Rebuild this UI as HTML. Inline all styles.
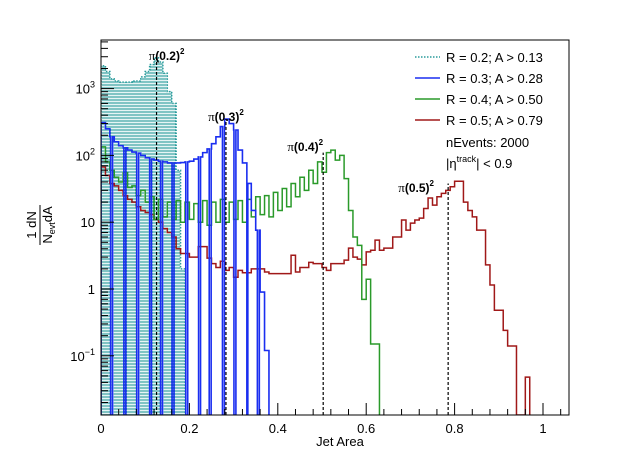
<!DOCTYPE html>
<html><head><meta charset="utf-8"><style>
html,body{margin:0;padding:0;background:#fff;}
svg{display:block;font-family:"Liberation Sans",sans-serif;}
</style></head><body>
<svg id="chart" width="620" height="472" viewBox="0 0 620 472" xmlns="http://www.w3.org/2000/svg">
<defs>
<clipPath id="plotclip"><rect x="101" y="40" width="468" height="375"/></clipPath>
<pattern id="tealpat" width="2" height="3" patternUnits="userSpaceOnUse">
<line x1="1" y1="0" x2="1" y2="2.2" stroke="#2a9c9c" stroke-width="1.2"/>
</pattern>
</defs>
<rect x="0" y="0" width="620" height="472" fill="#fff"/>
<g id="series" clip-path="url(#plotclip)"></g>
<g id="axes"></g>
<rect x="101" y="40" width="468" height="375" fill="none" stroke="#000" stroke-width="1"/>
<g id="labels"></g>
<g font-size="13">
<g><line x1="415" y1="57" x2="440" y2="57" stroke="#2a9c9c" stroke-width="1.5" stroke-dasharray="1.5,1.5"/><text x="446" y="62">R = 0.2; A &gt; 0.13</text></g>
<g><line x1="415" y1="78" x2="440" y2="78" stroke="#1a2ef0" stroke-width="1.5"/><text x="446" y="83">R = 0.3; A &gt; 0.28</text></g>
<g><line x1="415" y1="99" x2="440" y2="99" stroke="#2a9a2a" stroke-width="1.5"/><text x="446" y="104">R = 0.4; A &gt; 0.50</text></g>
<g><line x1="415" y1="120" x2="440" y2="120" stroke="#a01818" stroke-width="1.5"/><text x="446" y="125">R = 0.5; A &gt; 0.79</text></g>
<text x="446" y="147">nEvents: 2000</text>
<text x="446" y="168">|η<tspan font-size="9" dy="-6">track</tspan><tspan dy="6">| &lt; 0.9</tspan></text>
</g>
<g transform="translate(40,225) rotate(-90)" font-size="13">
<text x="0" y="-4" text-anchor="middle">1  dN</text>
<line x1="-20" y1="0" x2="20" y2="0" stroke="#000" stroke-width="1"/>
<text x="0" y="12" text-anchor="middle">N<tspan font-size="9" dy="3">evt</tspan><tspan dy="-3">dA</tspan></text>
</g>
<text x="340" y="446" font-size="13" text-anchor="middle">Jet Area</text>
</svg>
<script>
const binWidth = 0.01;
const tealValues = [2200,1800,1400,1300,1250,1250,1250,1300,1300,1500,1800,2300,2900,2500,1700,900,600,60,2];
const blueValues = [310,250,190,160,140,130,120,112,108,100,92,88,85,82,80,77,77,77,78,80,82,88,95,110,125,150,190,270,350,300,240,120,77,38,15,7.6,0.9,0.12];
const blueGaps = [0.024,0.054,0.083,0.112,0.137,0.163,0.194,0.223,0.247,0.277,0.303,0.330,0.356];
const greenValues = [134,80,60,47,40,55,33,35,25,30,20,24,11,22,12,20,11,21,10,20,11,19,10,21,9,20,10,22,10,20,11,21,10,22,12,24,13,25,12,28,15,32,17,38,24,47,30,60,38,80,56,110,120,85,100,45,15,6,4.5,0.7,1.4,0.15,0.15];
const redValues = [67,50,38,35,30,25,22,20,17,15,14,13,11,10,8,7,6,4,3.4,3.4,3.0,3.0,4.3,4.3,2.9,2.4,2.1,2.6,1.9,2.1,1.5,1.9,1.75,1.75,2.0,2.0,2.0,1.8,1.7,1.7,1.7,1.7,1.7,3.2,1.8,2.1,2.1,2.5,2.4,2.4,2.1,1.9,2.4,2.4,2.4,2.7,4.1,3.0,2.8,2.3,3.6,3.8,5.4,3.8,4.1,4.1,6,6,10.8,7.6,9.7,10.8,11.5,16,23,18,24,27,30,34,41,41,20,15,12,7.6,7.6,2.3,1.15,0.48,0.48,0.24,0.14,0.14,0,0,0.048];
const piLines = [0.1257,0.2827,0.5027,0.7854];
const piLabels = ["0.2","0.3","0.4","0.5"];
const piTops = [2900,350,110,38];
const xTickLabels = ["0","0.2","0.4","0.6","0.8","1"];
const yTickExps = [-1,0,1,2,3];

const NS = "http://www.w3.org/2000/svg";
const X0=101, XS=442, YB=415, YT=40, Y1=289, DEC=66.8;
function xs(v){return X0+v*XS;}
function ys(v){ if(!(v>0)) return YB; const y=Y1-DEC*Math.log10(v); return Math.max(YT-5,Math.min(YB,y)); }
function mk(tag,attrs,parent){const e=document.createElementNS(NS,tag);for(const k in attrs)e.setAttribute(k,attrs[k]);parent.appendChild(e);return e;}

function segments(vals){return vals.map((v,i)=>[i*binWidth,(i+1)*binWidth,v]);}
function withGaps(segs,gaps,hw){
  let out=segs.slice();
  gaps.forEach(g=>{
    const res=[];
    out.forEach(s=>{
      if(g>=s[0]&&g<s[1]){
        const a=Math.max(s[0],g-hw), b=Math.min(s[1],g+hw);
        if(a>s[0]) res.push([s[0],a,s[2]]);
        res.push([a,b,0]);
        if(b<s[1]) res.push([b,s[1],s[2]]);
      } else res.push(s);
    });
    out=res;
  });
  return out;
}
function histPath(segs){
  let d="M"+xs(segs[0][0]).toFixed(2)+","+YB;
  segs.forEach(s=>{const y=ys(s[2]).toFixed(2);d+=" L"+xs(s[0]).toFixed(2)+","+y+" L"+xs(s[1]).toFixed(2)+","+y;});
  d+=" L"+xs(segs[segs.length-1][1]).toFixed(2)+","+YB;
  return d;
}
const sg=document.getElementById("series");
const ax=document.getElementById("axes");
const lb=document.getElementById("labels");

const tp=histPath(segments(tealValues));
const tf=mk("path",{d:tp+" Z",fill:"url(#tealpat)",stroke:"none"},sg);


const tl=mk("path",{d:tp,fill:"none",stroke:"#2a9c9c","stroke-width":"1.5","stroke-dasharray":"1.5,1.5"},sg);


const rl=mk("path",{d:histPath(segments(redValues)),fill:"none",stroke:"#a01818","stroke-width":"1.5"},sg);


const gl=mk("path",{d:histPath(segments(greenValues)),fill:"none",stroke:"#2a9a2a","stroke-width":"1.5"},sg);


const bl=mk("path",{d:histPath(withGaps(segments(blueValues),blueGaps,0.0022)),fill:"none",stroke:"#1a2ef0","stroke-width":"1.6"},sg);



const labelDx=[10,0,-18,-32];
const labelY=[60,121,151,192];
piLines.forEach((a,i)=>{
  const l=mk("line",{x1:xs(a),x2:xs(a),y1:YB,y2:ys(piTops[i]),stroke:"#000","stroke-width":"1.2","stroke-dasharray":"3,2"},lb);
  
  
  const t=mk("text",{x:xs(a)+labelDx[i],y:labelY[i],"text-anchor":"middle","font-size":"12","font-weight":"bold"},lb);
  
  
  const p=mk("tspan",{"font-weight":"normal","font-family":"Liberation Serif, serif","font-size":"13"},t);
  p.textContent="π";
  const m=mk("tspan",{},t);
  m.textContent="("+piLabels[i]+")";
  const s=mk("tspan",{"font-size":"8",dy:"-6"},t);
  s.textContent="2";
});

for(let k=0;k<=26;k++){
  const v=k*0.04; if(v>1.06) break;
  const major=(k%5===0);
  const t=mk("line",{x1:xs(v),x2:xs(v),y1:YB,y2:YB-(major?12:6),stroke:"#000","stroke-width":"1"},ax);
  
  
}
xTickLabels.forEach((s,i)=>{
  const t=mk("text",{x:xs(i*0.2),y:433,"text-anchor":"middle","font-size":"13"},ax);
  
  
  t.textContent=s;
});
for(let e=-2;e<=3;e++){
  for(let m=1;m<10;m++){
    const v=m*Math.pow(10,e); const y=Y1-DEC*Math.log10(v);
    if(y>YB||y<YT) continue;
    const t=mk("line",{x1:X0,x2:X0+(m===1?13:7),y1:y,y2:y,stroke:"#000","stroke-width":"1"},ax);
    
    
  }
}
yTickExps.forEach(e=>{
  const y=Y1-DEC*e+5;
  const t=mk("text",{x:95,y:y,"text-anchor":"end","font-size":"13"},ax);
  
  
  if(e===0) t.textContent="1";
  else if(e===1) t.textContent="10";
  else {
    const b=mk("tspan",{},t); b.textContent="10";
    const s=mk("tspan",{"font-size":"9",dy:"-6"},t); s.textContent=(e<0?"−1":String(e));
  }
});
</script>
</body></html>
